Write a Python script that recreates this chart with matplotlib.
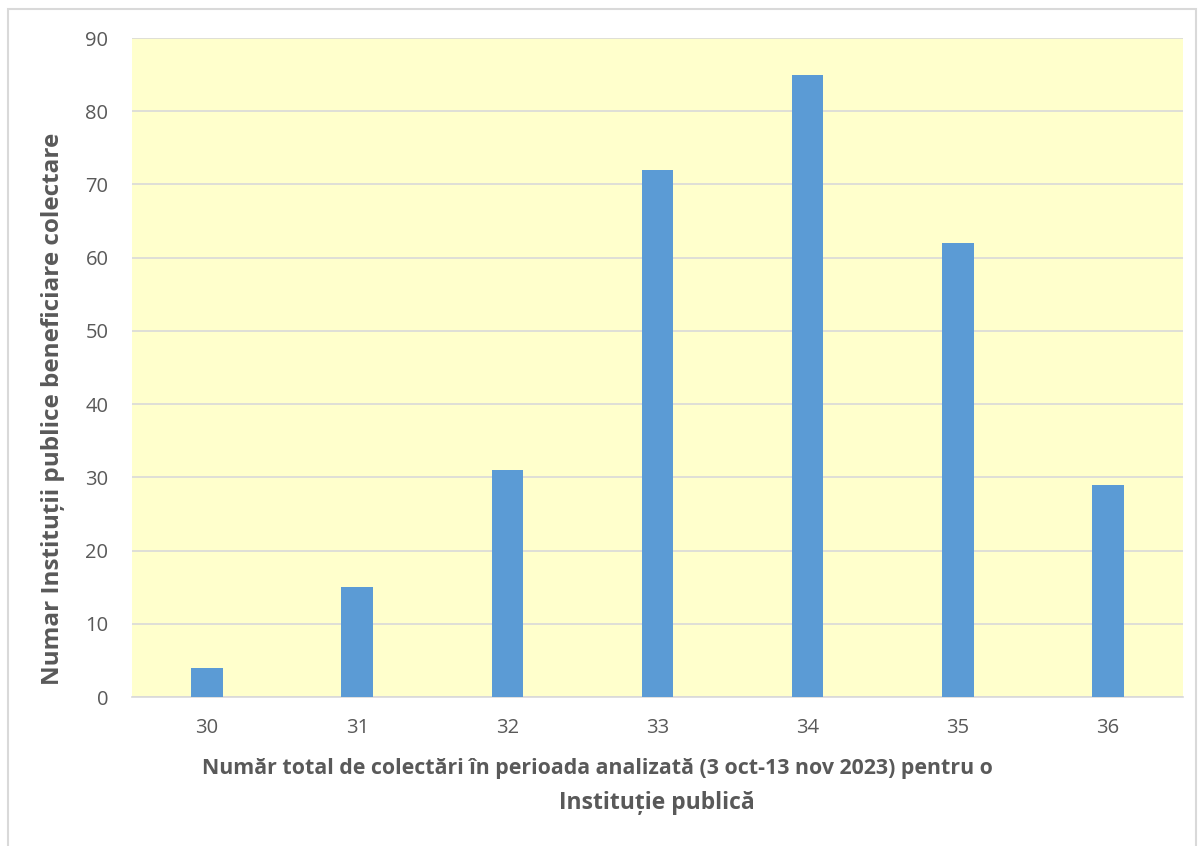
import matplotlib.pyplot as plt
from matplotlib.patches import Rectangle

plt.rcParams['font.family'] = ['Open Sans', 'DejaVu Sans']

colectari = ['30', '31', '32', '33', '34', '35', '36']
institutii = [4, 15, 31, 72, 85, 62, 29]

W, H = 1198, 846
fig = plt.figure(figsize=(W / 100, H / 100), dpi=100)
ax = fig.add_axes([132 / W, 1 - 697 / H, 1051 / W, 659 / H])

# chenarul graficului (taiat jos)
fig.patches.append(Rectangle((8 / W, -0.1), 1188 / W, 1 - 9 / H + 0.1,
                             transform=fig.transFigure, fill=False,
                             edgecolor='#D9D9D9', linewidth=1.5))

ax.set_facecolor('#FFFFCC')
ax.bar(range(len(colectari)), institutii, width=0.21, color='#5B9BD5', zorder=3)

ax.set_xlim(-0.5, len(colectari) - 0.5)
ax.set_ylim(0, 90)
ax.set_yticks(range(0, 91, 10))
ax.set_xticks(range(len(colectari)))
ax.set_xticklabels(colectari)
ax.grid(axis='y', color='#D9D9D9', linewidth=1.2, zorder=0)
ax.tick_params(length=0, labelsize=14.5, labelcolor='#595959')
ax.tick_params(axis='x', pad=15)
ax.tick_params(axis='y', pad=17)

for s in ['top', 'right', 'left']:
    ax.spines[s].set_visible(False)
ax.spines['bottom'].set_color('#D9D9D9')
ax.spines['bottom'].set_linewidth(1.2)

# titlurile axelor
txt = dict(fontweight='bold', color='#595959', ha='center', va='center')
fig.text(597 / W, 1 - 768 / H,
         'Număr total de colectări în perioada analizată (3 oct-13 nov 2023) pentru o',
         fontsize=15.4, **txt)
fig.text(657 / W, 1 - 803 / H, 'Instituție publică', fontsize=16.5, **txt)
fig.text(53 / W, 1 - 409 / H, 'Numar Instituții publice beneficiare colectare',
         fontsize=17.5, rotation=90, **txt)

fig.savefig('out.png', dpi=100, facecolor='white')
